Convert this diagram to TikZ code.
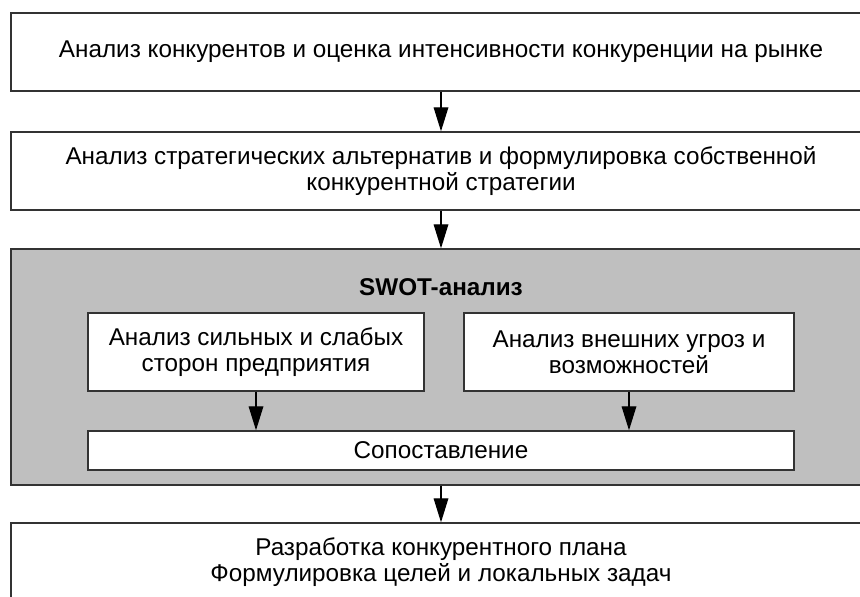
\documentclass[tikz,border=0pt]{standalone}
\usepackage{fontspec}
\setmainfont{Liberation Sans}
\usepackage{tikz}
\usetikzlibrary{arrows.meta}

\tikzset{
  blok/.style={draw={black!80}, line width=1.1pt, fill=white, inner sep=0pt, align=center,
    font=\fontsize{18.2}{19.5}\selectfont},
  strelka/.style={line width=0.9pt, -{Triangle[length=18pt,width=11pt]}}
}

\begin{document}
\begin{tikzpicture}[x=0.75pt,y=0.75pt,yscale=-1]
\useasboundingbox (0,0) rectangle (860,596);
\clip (0,0) rectangle (860,596);

%Shape: Rectangle [top]
\draw (441,52) node [blok, minimum width=645pt, minimum height=58.5pt] (konk) {Анализ конкурентов и оценка интенсивности конкуренции на рынке};
%Shape: Rectangle [strategy]
\draw (441,171) node [blok, minimum width=645pt, minimum height=58.5pt] (strat) {Анализ стратегических альтернатив и формулировка собственной\\конкурентной стратегии};
%Shape: Rectangle [gray]
\draw (441,367) node [blok, fill=black!25, minimum width=645pt, minimum height=177pt] (swot) {};
% Text Node
\draw (441,287) node [font=\fontsize{18.2}{19.5}\selectfont\bfseries] (swottitle) {SWOT-анализ};
%Shape: Rectangle [inner left]
\draw (256,352) node [blok, minimum width=252pt, minimum height=58.5pt] (sily) {Анализ сильных и слабых\\сторон предприятия};
%Shape: Rectangle [inner right]
\draw (629,352) node [blok, minimum width=247.5pt, minimum height=58.5pt] (ugroz) {Анализ внешних угроз и\\возможностей};
%Shape: Rectangle [compare]
\draw (441,450.5) node [blok, minimum width=529.5pt, minimum height=29.25pt] (sopost) {Сопоставление};
%Shape: Rectangle [bottom]
\draw (441,562) node [blok, minimum width=645pt, minimum height=58.5pt] (plan) {Разработка конкурентного плана\\Формулировка целей и локальных задач};

%Straight Lines
\draw [strelka] (konk.south) -- (strat.north);
\draw [strelka] (strat.south) -- (swot.north);
\draw [strelka] (sily.south) -- (sily.south |- sopost.north);
\draw [strelka] (ugroz.south) -- (ugroz.south |- sopost.north);
\draw [strelka] (swot.south) -- (plan.north);

\end{tikzpicture}
\end{document}
